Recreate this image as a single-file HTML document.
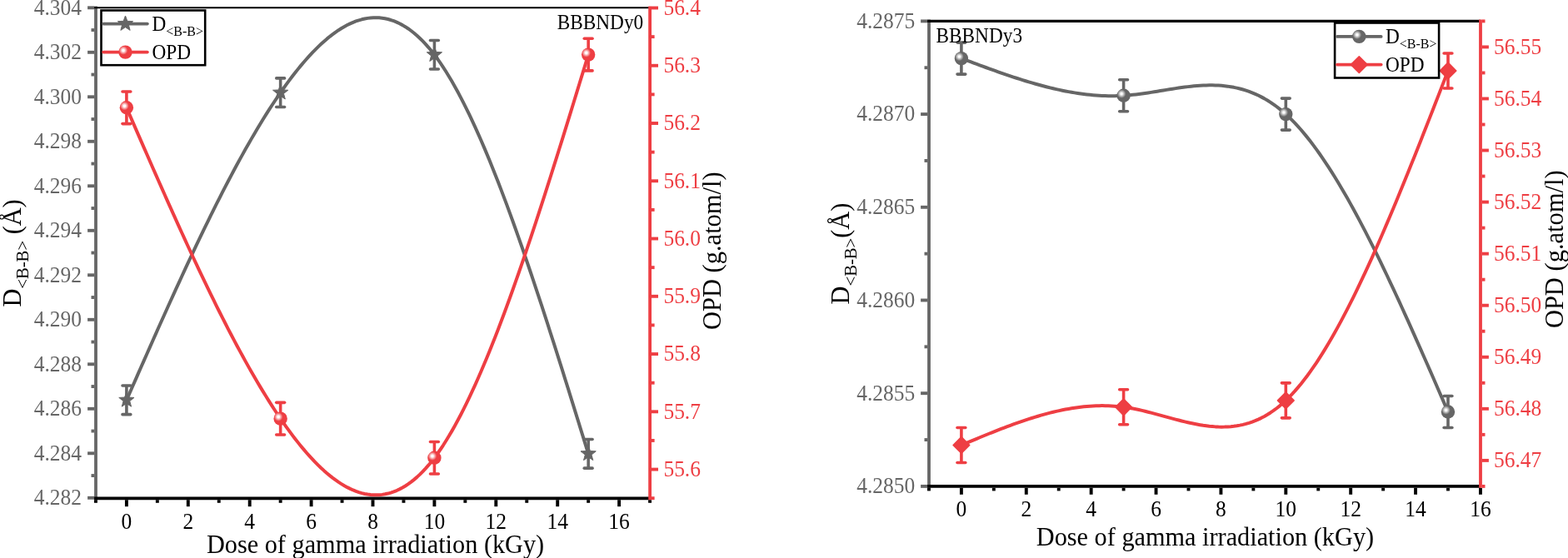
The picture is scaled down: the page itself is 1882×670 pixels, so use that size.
<!DOCTYPE html>
<html><head><meta charset="utf-8"><title>D(B-B) and OPD vs dose</title><style>
html,body{margin:0;padding:0;background:#fff;width:1882px;height:670px;overflow:hidden;}
svg{display:block;}
text{font-family:"Liberation Serif","Times New Roman",serif;}
</style></head><body>
<svg width="1882" height="670" viewBox="0 0 1882 670">
<defs>
<radialGradient id="rg" cx="0.35" cy="0.37" r="0.32" fx="0.35" fy="0.37"><stop offset="0" stop-color="#fff"/><stop offset="0.22" stop-color="#fff"/><stop offset="1" stop-color="#EE3E43"/></radialGradient>
<radialGradient id="gg" cx="0.35" cy="0.37" r="0.32" fx="0.35" fy="0.37"><stop offset="0" stop-color="#fff"/><stop offset="0.22" stop-color="#fafafa"/><stop offset="1" stop-color="#666666"/></radialGradient>
</defs>
<rect width="1882" height="670" fill="#fff"/>
<line x1="115" y1="7.4" x2="115" y2="600.2" stroke="#666666" stroke-width="3.8" stroke-linecap="butt"/>
<line x1="113.1" y1="597.8" x2="105.1" y2="597.8" stroke="#666666" stroke-width="3.9" stroke-linecap="butt"/>
<text transform="translate(98,606.1) scale(0.980,1.060)" fill="#666666" font-size="26" text-anchor="end">4.282</text>
<line x1="113.1" y1="544.3" x2="105.1" y2="544.3" stroke="#666666" stroke-width="3.9" stroke-linecap="butt"/>
<text transform="translate(98,552.6) scale(0.980,1.060)" fill="#666666" font-size="26" text-anchor="end">4.284</text>
<line x1="113.1" y1="490.8" x2="105.1" y2="490.8" stroke="#666666" stroke-width="3.9" stroke-linecap="butt"/>
<text transform="translate(98,499.1) scale(0.980,1.060)" fill="#666666" font-size="26" text-anchor="end">4.286</text>
<line x1="113.1" y1="437.3" x2="105.1" y2="437.3" stroke="#666666" stroke-width="3.9" stroke-linecap="butt"/>
<text transform="translate(98,445.6) scale(0.980,1.060)" fill="#666666" font-size="26" text-anchor="end">4.288</text>
<line x1="113.1" y1="383.8" x2="105.1" y2="383.8" stroke="#666666" stroke-width="3.9" stroke-linecap="butt"/>
<text transform="translate(98,392.1) scale(0.980,1.060)" fill="#666666" font-size="26" text-anchor="end">4.290</text>
<line x1="113.1" y1="330.3" x2="105.1" y2="330.3" stroke="#666666" stroke-width="3.9" stroke-linecap="butt"/>
<text transform="translate(98,338.6) scale(0.980,1.060)" fill="#666666" font-size="26" text-anchor="end">4.292</text>
<line x1="113.1" y1="276.8" x2="105.1" y2="276.8" stroke="#666666" stroke-width="3.9" stroke-linecap="butt"/>
<text transform="translate(98,285.1) scale(0.980,1.060)" fill="#666666" font-size="26" text-anchor="end">4.294</text>
<line x1="113.1" y1="223.3" x2="105.1" y2="223.3" stroke="#666666" stroke-width="3.9" stroke-linecap="butt"/>
<text transform="translate(98,231.6) scale(0.980,1.060)" fill="#666666" font-size="26" text-anchor="end">4.296</text>
<line x1="113.1" y1="169.8" x2="105.1" y2="169.8" stroke="#666666" stroke-width="3.9" stroke-linecap="butt"/>
<text transform="translate(98,178.1) scale(0.980,1.060)" fill="#666666" font-size="26" text-anchor="end">4.298</text>
<line x1="113.1" y1="116.3" x2="105.1" y2="116.3" stroke="#666666" stroke-width="3.9" stroke-linecap="butt"/>
<text transform="translate(98,124.6) scale(0.980,1.060)" fill="#666666" font-size="26" text-anchor="end">4.300</text>
<line x1="113.1" y1="62.8" x2="105.1" y2="62.8" stroke="#666666" stroke-width="3.9" stroke-linecap="butt"/>
<text transform="translate(98,71.1) scale(0.980,1.060)" fill="#666666" font-size="26" text-anchor="end">4.302</text>
<line x1="113.1" y1="9.3" x2="105.1" y2="9.3" stroke="#666666" stroke-width="3.9" stroke-linecap="butt"/>
<text transform="translate(98,17.6) scale(0.980,1.060)" fill="#666666" font-size="26" text-anchor="end">4.304</text>
<line x1="113.1" y1="571.05" x2="109.5" y2="571.05" stroke="#666666" stroke-width="3.9" stroke-linecap="butt"/>
<line x1="113.1" y1="517.55" x2="109.5" y2="517.55" stroke="#666666" stroke-width="3.9" stroke-linecap="butt"/>
<line x1="113.1" y1="464.05" x2="109.5" y2="464.05" stroke="#666666" stroke-width="3.9" stroke-linecap="butt"/>
<line x1="113.1" y1="410.55" x2="109.5" y2="410.55" stroke="#666666" stroke-width="3.9" stroke-linecap="butt"/>
<line x1="113.1" y1="357.05" x2="109.5" y2="357.05" stroke="#666666" stroke-width="3.9" stroke-linecap="butt"/>
<line x1="113.1" y1="303.55" x2="109.5" y2="303.55" stroke="#666666" stroke-width="3.9" stroke-linecap="butt"/>
<line x1="113.1" y1="250.05" x2="109.5" y2="250.05" stroke="#666666" stroke-width="3.9" stroke-linecap="butt"/>
<line x1="113.1" y1="196.55" x2="109.5" y2="196.55" stroke="#666666" stroke-width="3.9" stroke-linecap="butt"/>
<line x1="113.1" y1="143.05" x2="109.5" y2="143.05" stroke="#666666" stroke-width="3.9" stroke-linecap="butt"/>
<line x1="113.1" y1="89.55" x2="109.5" y2="89.55" stroke="#666666" stroke-width="3.9" stroke-linecap="butt"/>
<line x1="113.1" y1="36.05" x2="109.5" y2="36.05" stroke="#666666" stroke-width="3.9" stroke-linecap="butt"/>
<line x1="113.1" y1="9.3" x2="780.1" y2="9.3" stroke="#000000" stroke-width="2" stroke-linecap="butt"/>
<line x1="113.1" y1="598.3" x2="780.1" y2="598.3" stroke="#000000" stroke-width="3.8" stroke-linecap="butt"/>
<line x1="151.9" y1="600.2" x2="151.9" y2="608.2" stroke="#000000" stroke-width="3.9" stroke-linecap="butt"/>
<text transform="translate(151.9,634.5) scale(0.980,1.060)" fill="#000000" font-size="26" text-anchor="middle">0</text>
<line x1="225.8" y1="600.2" x2="225.8" y2="608.2" stroke="#000000" stroke-width="3.9" stroke-linecap="butt"/>
<text transform="translate(225.8,634.5) scale(0.980,1.060)" fill="#000000" font-size="26" text-anchor="middle">2</text>
<line x1="299.7" y1="600.2" x2="299.7" y2="608.2" stroke="#000000" stroke-width="3.9" stroke-linecap="butt"/>
<text transform="translate(299.7,634.5) scale(0.980,1.060)" fill="#000000" font-size="26" text-anchor="middle">4</text>
<line x1="373.6" y1="600.2" x2="373.6" y2="608.2" stroke="#000000" stroke-width="3.9" stroke-linecap="butt"/>
<text transform="translate(373.6,634.5) scale(0.980,1.060)" fill="#000000" font-size="26" text-anchor="middle">6</text>
<line x1="447.5" y1="600.2" x2="447.5" y2="608.2" stroke="#000000" stroke-width="3.9" stroke-linecap="butt"/>
<text transform="translate(447.5,634.5) scale(0.980,1.060)" fill="#000000" font-size="26" text-anchor="middle">8</text>
<line x1="521.4" y1="600.2" x2="521.4" y2="608.2" stroke="#000000" stroke-width="3.9" stroke-linecap="butt"/>
<text transform="translate(521.4,634.5) scale(0.980,1.060)" fill="#000000" font-size="26" text-anchor="middle">10</text>
<line x1="595.3" y1="600.2" x2="595.3" y2="608.2" stroke="#000000" stroke-width="3.9" stroke-linecap="butt"/>
<text transform="translate(595.3,634.5) scale(0.980,1.060)" fill="#000000" font-size="26" text-anchor="middle">12</text>
<line x1="669.2" y1="600.2" x2="669.2" y2="608.2" stroke="#000000" stroke-width="3.9" stroke-linecap="butt"/>
<text transform="translate(669.2,634.5) scale(0.980,1.060)" fill="#000000" font-size="26" text-anchor="middle">14</text>
<line x1="743.1" y1="600.2" x2="743.1" y2="608.2" stroke="#000000" stroke-width="3.9" stroke-linecap="butt"/>
<text transform="translate(743.1,634.5) scale(0.980,1.060)" fill="#000000" font-size="26" text-anchor="middle">16</text>
<line x1="114.95" y1="600.2" x2="114.95" y2="603.8" stroke="#000000" stroke-width="3.9" stroke-linecap="butt"/>
<line x1="188.85" y1="600.2" x2="188.85" y2="603.8" stroke="#000000" stroke-width="3.9" stroke-linecap="butt"/>
<line x1="262.75" y1="600.2" x2="262.75" y2="603.8" stroke="#000000" stroke-width="3.9" stroke-linecap="butt"/>
<line x1="336.65" y1="600.2" x2="336.65" y2="603.8" stroke="#000000" stroke-width="3.9" stroke-linecap="butt"/>
<line x1="410.55" y1="600.2" x2="410.55" y2="603.8" stroke="#000000" stroke-width="3.9" stroke-linecap="butt"/>
<line x1="484.45" y1="600.2" x2="484.45" y2="603.8" stroke="#000000" stroke-width="3.9" stroke-linecap="butt"/>
<line x1="558.35" y1="600.2" x2="558.35" y2="603.8" stroke="#000000" stroke-width="3.9" stroke-linecap="butt"/>
<line x1="632.25" y1="600.2" x2="632.25" y2="603.8" stroke="#000000" stroke-width="3.9" stroke-linecap="butt"/>
<line x1="706.15" y1="600.2" x2="706.15" y2="603.8" stroke="#000000" stroke-width="3.9" stroke-linecap="butt"/>
<line x1="780.05" y1="600.2" x2="780.05" y2="603.8" stroke="#000000" stroke-width="3.9" stroke-linecap="butt"/>
<line x1="780.1" y1="7.4" x2="780.1" y2="600.2" stroke="#EE3E43" stroke-width="3.8" stroke-linecap="butt"/>
<line x1="782" y1="563.58" x2="790" y2="563.58" stroke="#EE3E43" stroke-width="3.9" stroke-linecap="butt"/>
<text transform="translate(796.4,571.88) scale(0.980,1.060)" fill="#EE3E43" font-size="26" text-anchor="start">55.6</text>
<line x1="782" y1="494.32" x2="790" y2="494.32" stroke="#EE3E43" stroke-width="3.9" stroke-linecap="butt"/>
<text transform="translate(796.4,502.62) scale(0.980,1.060)" fill="#EE3E43" font-size="26" text-anchor="start">55.7</text>
<line x1="782" y1="425.06" x2="790" y2="425.06" stroke="#EE3E43" stroke-width="3.9" stroke-linecap="butt"/>
<text transform="translate(796.4,433.36) scale(0.980,1.060)" fill="#EE3E43" font-size="26" text-anchor="start">55.8</text>
<line x1="782" y1="355.8" x2="790" y2="355.8" stroke="#EE3E43" stroke-width="3.9" stroke-linecap="butt"/>
<text transform="translate(796.4,364.1) scale(0.980,1.060)" fill="#EE3E43" font-size="26" text-anchor="start">55.9</text>
<line x1="782" y1="286.54" x2="790" y2="286.54" stroke="#EE3E43" stroke-width="3.9" stroke-linecap="butt"/>
<text transform="translate(796.4,294.84) scale(0.980,1.060)" fill="#EE3E43" font-size="26" text-anchor="start">56.0</text>
<line x1="782" y1="217.28" x2="790" y2="217.28" stroke="#EE3E43" stroke-width="3.9" stroke-linecap="butt"/>
<text transform="translate(796.4,225.58) scale(0.980,1.060)" fill="#EE3E43" font-size="26" text-anchor="start">56.1</text>
<line x1="782" y1="148.02" x2="790" y2="148.02" stroke="#EE3E43" stroke-width="3.9" stroke-linecap="butt"/>
<text transform="translate(796.4,156.32) scale(0.980,1.060)" fill="#EE3E43" font-size="26" text-anchor="start">56.2</text>
<line x1="782" y1="78.76" x2="790" y2="78.76" stroke="#EE3E43" stroke-width="3.9" stroke-linecap="butt"/>
<text transform="translate(796.4,87.06) scale(0.980,1.060)" fill="#EE3E43" font-size="26" text-anchor="start">56.3</text>
<line x1="782" y1="9.5" x2="790" y2="9.5" stroke="#EE3E43" stroke-width="3.9" stroke-linecap="butt"/>
<text transform="translate(796.4,17.8) scale(0.980,1.060)" fill="#EE3E43" font-size="26" text-anchor="start">56.4</text>
<line x1="782" y1="598.21" x2="785.6" y2="598.21" stroke="#EE3E43" stroke-width="3.9" stroke-linecap="butt"/>
<line x1="782" y1="528.95" x2="785.6" y2="528.95" stroke="#EE3E43" stroke-width="3.9" stroke-linecap="butt"/>
<line x1="782" y1="459.69" x2="785.6" y2="459.69" stroke="#EE3E43" stroke-width="3.9" stroke-linecap="butt"/>
<line x1="782" y1="390.43" x2="785.6" y2="390.43" stroke="#EE3E43" stroke-width="3.9" stroke-linecap="butt"/>
<line x1="782" y1="321.17" x2="785.6" y2="321.17" stroke="#EE3E43" stroke-width="3.9" stroke-linecap="butt"/>
<line x1="782" y1="251.91" x2="785.6" y2="251.91" stroke="#EE3E43" stroke-width="3.9" stroke-linecap="butt"/>
<line x1="782" y1="182.65" x2="785.6" y2="182.65" stroke="#EE3E43" stroke-width="3.9" stroke-linecap="butt"/>
<line x1="782" y1="113.39" x2="785.6" y2="113.39" stroke="#EE3E43" stroke-width="3.9" stroke-linecap="butt"/>
<line x1="782" y1="44.13" x2="785.6" y2="44.13" stroke="#EE3E43" stroke-width="3.9" stroke-linecap="butt"/>
<text transform="translate(247.9,663.5) scale(1.000,1.055)" fill="#000000" font-size="30.3" text-anchor="start">Dose of gamma irradiation (kGy)</text>
<text transform="translate(25,368.6) rotate(-90) scale(1,1.055)" fill="#000000" font-size="30.3">D<tspan font-size="20.69" dy="8.18">&lt;B-B&gt;</tspan><tspan dy="-8.18"> (Å)</tspan></text>
<text transform="translate(864.7,396) rotate(-90) scale(1,1.055)" fill="#000000" font-size="30.5">OPD (g.atom/l)</text>
<path d="M151.9,480.37 L155.39,472.43 L158.87,464.5 L162.36,456.58 L165.84,448.65 L169.33,440.74 L172.82,432.84 L176.3,424.95 L179.79,417.07 L183.27,409.21 L186.76,401.37 L190.24,393.55 L193.73,385.76 L197.22,377.99 L200.7,370.24 L204.19,362.52 L207.67,354.84 L211.16,347.19 L214.65,339.57 L218.13,331.99 L221.62,324.45 L225.1,316.95 L228.59,309.5 L232.07,302.09 L235.56,294.72 L239.05,287.41 L242.53,280.15 L246.02,272.94 L249.5,265.79 L252.99,258.7 L256.48,251.66 L259.96,244.69 L263.45,237.79 L266.93,230.94 L270.42,224.17 L273.9,217.47 L277.39,210.84 L280.88,204.28 L284.36,197.81 L287.85,191.41 L291.33,185.09 L294.82,178.85 L298.31,172.7 L301.79,166.63 L305.28,160.66 L308.76,154.77 L312.25,148.98 L315.73,143.28 L319.22,137.68 L322.71,132.18 L326.19,126.78 L329.68,121.49 L333.16,116.3 L336.65,111.22 L340.14,106.25 L343.62,101.39 L347.11,96.64 L350.59,92.01 L354.08,87.51 L357.57,83.12 L361.05,78.87 L364.54,74.74 L368.02,70.74 L371.51,66.87 L374.99,63.15 L378.48,59.56 L381.97,56.11 L385.45,52.81 L388.94,49.66 L392.42,46.65 L395.91,43.8 L399.4,41.11 L402.88,38.57 L406.37,36.2 L409.85,33.98 L413.34,31.94 L416.82,30.06 L420.31,28.36 L423.8,26.82 L427.28,25.47 L430.77,24.3 L434.25,23.31 L437.74,22.5 L441.23,21.88 L444.71,21.45 L448.2,21.22 L451.68,21.18 L455.17,21.34 L458.65,21.71 L462.14,22.27 L465.63,23.04 L469.11,24.03 L472.6,25.22 L476.08,26.63 L479.57,28.26 L483.06,30.11 L486.54,32.18 L490.03,34.47 L493.51,37 L497,39.75 L500.48,42.74 L503.97,45.97 L507.46,49.43 L510.94,53.14 L514.43,57.09 L517.91,61.29 L521.4,65.74 L524.89,70.44 L528.37,75.39 L531.86,80.58 L535.34,86.01 L538.83,91.68 L542.32,97.57 L545.8,103.69 L549.29,110.02 L552.77,116.57 L556.26,123.33 L559.74,130.3 L563.23,137.46 L566.72,144.83 L570.2,152.38 L573.69,160.12 L577.17,168.03 L580.66,176.13 L584.15,184.4 L587.63,192.83 L591.12,201.43 L594.6,210.18 L598.09,219.09 L601.57,228.14 L605.06,237.34 L608.55,246.67 L612.03,256.14 L615.52,265.74 L619,275.46 L622.49,285.3 L625.98,295.26 L629.46,305.32 L632.95,315.49 L636.43,325.76 L639.92,336.12 L643.4,346.58 L646.89,357.12 L650.38,367.74 L653.86,378.44 L657.35,389.21 L660.83,400.05 L664.32,410.95 L667.81,421.9 L671.29,432.91 L674.78,443.97 L678.26,455.07 L681.75,466.21 L685.23,477.38 L688.72,488.58 L692.21,499.8 L695.69,511.04 L699.18,522.3 L702.66,533.56 L706.15,544.84" fill="none" stroke="#666666" stroke-width="4" stroke-linejoin="round"/>
<path d="M151.9,129.32 L155.39,137.34 L158.87,145.35 L162.36,153.36 L165.84,161.36 L169.33,169.36 L172.82,177.35 L176.3,185.32 L179.79,193.28 L183.27,201.22 L186.76,209.14 L190.24,217.04 L193.73,224.92 L197.22,232.78 L200.7,240.6 L204.19,248.4 L207.67,256.17 L211.16,263.9 L214.65,271.6 L218.13,279.26 L221.62,286.88 L225.1,294.46 L228.59,302 L232.07,309.49 L235.56,316.93 L239.05,324.33 L242.53,331.67 L246.02,338.95 L249.5,346.18 L252.99,353.36 L256.48,360.47 L259.96,367.52 L263.45,374.5 L266.93,381.42 L270.42,388.27 L273.9,395.05 L277.39,401.76 L280.88,408.39 L284.36,414.95 L287.85,421.42 L291.33,427.82 L294.82,434.13 L298.31,440.36 L301.79,446.5 L305.28,452.55 L308.76,458.5 L312.25,464.37 L315.73,470.14 L319.22,475.81 L322.71,481.38 L326.19,486.85 L329.68,492.22 L333.16,497.48 L336.65,502.63 L340.14,507.67 L343.62,512.6 L347.11,517.42 L350.59,522.11 L354.08,526.68 L357.57,531.13 L361.05,535.46 L364.54,539.65 L368.02,543.71 L371.51,547.64 L374.99,551.43 L378.48,555.07 L381.97,558.58 L385.45,561.94 L388.94,565.15 L392.42,568.21 L395.91,571.11 L399.4,573.86 L402.88,576.45 L406.37,578.87 L409.85,581.13 L413.34,583.23 L416.82,585.15 L420.31,586.89 L423.8,588.47 L427.28,589.86 L430.77,591.07 L434.25,592.1 L437.74,592.94 L441.23,593.58 L444.71,594.04 L448.2,594.3 L451.68,594.36 L455.17,594.23 L458.65,593.88 L462.14,593.33 L465.63,592.58 L469.11,591.6 L472.6,590.42 L476.08,589.02 L479.57,587.39 L483.06,585.55 L486.54,583.48 L490.03,581.17 L493.51,578.64 L497,575.88 L500.48,572.87 L503.97,569.63 L507.46,566.15 L510.94,562.42 L514.43,558.44 L517.91,554.21 L521.4,549.73 L524.89,544.99 L528.37,540 L531.86,534.77 L535.34,529.29 L538.83,523.58 L542.32,517.63 L545.8,511.46 L549.29,505.07 L552.77,498.46 L556.26,491.63 L559.74,484.6 L563.23,477.36 L566.72,469.93 L570.2,462.3 L573.69,454.49 L577.17,446.49 L580.66,438.31 L584.15,429.96 L587.63,421.44 L591.12,412.76 L594.6,403.91 L598.09,394.91 L601.57,385.76 L605.06,376.47 L608.55,367.03 L612.03,357.47 L615.52,347.77 L619,337.94 L622.49,327.99 L625.98,317.93 L629.46,307.76 L632.95,297.48 L636.43,287.1 L639.92,276.62 L643.4,266.05 L646.89,255.39 L650.38,244.65 L653.86,233.84 L657.35,222.95 L660.83,211.99 L664.32,200.97 L667.81,189.9 L671.29,178.76 L674.78,167.59 L678.26,156.36 L681.75,145.1 L685.23,133.81 L688.72,122.48 L692.21,111.14 L695.69,99.77 L699.18,88.39 L702.66,77 L706.15,65.6" fill="none" stroke="#EE3E43" stroke-width="4" stroke-linejoin="round"/>
<line x1="151.9" y1="463.07" x2="151.9" y2="497.67" stroke="#666666" stroke-width="3.6" stroke-linecap="butt"/>
<line x1="147" y1="463.07" x2="156.8" y2="463.07" stroke="#666666" stroke-width="3.6" stroke-linecap="round"/>
<line x1="147" y1="497.67" x2="156.8" y2="497.67" stroke="#666666" stroke-width="3.6" stroke-linecap="round"/>
<line x1="336.65" y1="93.92" x2="336.65" y2="128.52" stroke="#666666" stroke-width="3.6" stroke-linecap="butt"/>
<line x1="331.75" y1="93.92" x2="341.55" y2="93.92" stroke="#666666" stroke-width="3.6" stroke-linecap="round"/>
<line x1="331.75" y1="128.52" x2="341.55" y2="128.52" stroke="#666666" stroke-width="3.6" stroke-linecap="round"/>
<line x1="521.4" y1="48.44" x2="521.4" y2="83.04" stroke="#666666" stroke-width="3.6" stroke-linecap="butt"/>
<line x1="516.5" y1="48.44" x2="526.3" y2="48.44" stroke="#666666" stroke-width="3.6" stroke-linecap="round"/>
<line x1="516.5" y1="83.04" x2="526.3" y2="83.04" stroke="#666666" stroke-width="3.6" stroke-linecap="round"/>
<line x1="706.15" y1="527.54" x2="706.15" y2="562.14" stroke="#666666" stroke-width="3.6" stroke-linecap="butt"/>
<line x1="701.25" y1="527.54" x2="711.05" y2="527.54" stroke="#666666" stroke-width="3.6" stroke-linecap="round"/>
<line x1="701.25" y1="562.14" x2="711.05" y2="562.14" stroke="#666666" stroke-width="3.6" stroke-linecap="round"/>
<line x1="151.9" y1="110.02" x2="151.9" y2="148.62" stroke="#EE3E43" stroke-width="3.6" stroke-linecap="butt"/>
<line x1="147" y1="110.02" x2="156.8" y2="110.02" stroke="#EE3E43" stroke-width="3.6" stroke-linecap="round"/>
<line x1="147" y1="148.62" x2="156.8" y2="148.62" stroke="#EE3E43" stroke-width="3.6" stroke-linecap="round"/>
<line x1="336.65" y1="483.33" x2="336.65" y2="521.93" stroke="#EE3E43" stroke-width="3.6" stroke-linecap="butt"/>
<line x1="331.75" y1="483.33" x2="341.55" y2="483.33" stroke="#EE3E43" stroke-width="3.6" stroke-linecap="round"/>
<line x1="331.75" y1="521.93" x2="341.55" y2="521.93" stroke="#EE3E43" stroke-width="3.6" stroke-linecap="round"/>
<line x1="521.4" y1="530.43" x2="521.4" y2="569.03" stroke="#EE3E43" stroke-width="3.6" stroke-linecap="butt"/>
<line x1="516.5" y1="530.43" x2="526.3" y2="530.43" stroke="#EE3E43" stroke-width="3.6" stroke-linecap="round"/>
<line x1="516.5" y1="569.03" x2="526.3" y2="569.03" stroke="#EE3E43" stroke-width="3.6" stroke-linecap="round"/>
<line x1="706.15" y1="46.3" x2="706.15" y2="84.9" stroke="#EE3E43" stroke-width="3.6" stroke-linecap="butt"/>
<line x1="701.25" y1="46.3" x2="711.05" y2="46.3" stroke="#EE3E43" stroke-width="3.6" stroke-linecap="round"/>
<line x1="701.25" y1="84.9" x2="711.05" y2="84.9" stroke="#EE3E43" stroke-width="3.6" stroke-linecap="round"/>
<polygon points="151.9,470.77 154.27,477.11 161.03,477.4 155.73,481.61 157.54,488.13 151.9,484.4 146.26,488.13 148.07,481.61 142.77,477.4 149.53,477.11" fill="#666666" stroke="#666666" stroke-width="1" stroke-linejoin="round"/>
<polygon points="336.65,101.62 339.02,107.96 345.78,108.25 340.48,112.46 342.29,118.98 336.65,115.25 331.01,118.98 332.82,112.46 327.52,108.25 334.28,107.96" fill="#666666" stroke="#666666" stroke-width="1" stroke-linejoin="round"/>
<polygon points="521.4,56.14 523.77,62.48 530.53,62.78 525.23,66.99 527.04,73.51 521.4,69.77 515.76,73.51 517.57,66.99 512.27,62.78 519.03,62.48" fill="#666666" stroke="#666666" stroke-width="1" stroke-linejoin="round"/>
<polygon points="706.15,535.24 708.52,541.57 715.28,541.87 709.98,546.08 711.79,552.6 706.15,548.87 700.51,552.6 702.32,546.08 697.02,541.87 703.78,541.57" fill="#666666" stroke="#666666" stroke-width="1" stroke-linejoin="round"/>
<circle cx="151.9" cy="129.32" r="8.2" fill="url(#rg)"/>
<circle cx="336.65" cy="502.63" r="8.2" fill="url(#rg)"/>
<circle cx="521.4" cy="549.73" r="8.2" fill="url(#rg)"/>
<circle cx="706.15" cy="65.6" r="8.2" fill="url(#rg)"/>
<text transform="translate(772.2,34.6) scale(1.000,1.055)" fill="#000000" font-size="23.3" text-anchor="end">BBBNDy0</text>
<rect x="121.5" y="12.5" width="124.7" height="65.7" fill="#fff" stroke="#000" stroke-width="2.6"/>
<line x1="124.2" y1="28.6" x2="176.8" y2="28.6" stroke="#666666" stroke-width="3.9" stroke-linecap="round"/>
<line x1="124.2" y1="62.6" x2="176.8" y2="62.6" stroke="#EE3E43" stroke-width="3.9" stroke-linecap="round"/>
<polygon points="150.5,19 152.87,25.34 159.63,25.63 154.33,29.85 156.14,36.37 150.5,32.63 144.86,36.37 146.67,29.85 141.37,25.63 148.13,25.34" fill="#666666" stroke="#666666" stroke-width="1" stroke-linejoin="round"/>
<circle cx="150.5" cy="62.6" r="8.2" fill="url(#rg)"/>
<text transform="translate(182.4,36.9) scale(1,1.055)" fill="#000" font-size="23.3">D<tspan font-size="16" dy="5.6">&lt;B-B&gt;</tspan></text>
<text transform="translate(182.4,70.6) scale(1.000,1.055)" fill="#000000" font-size="23.3" text-anchor="start">OPD</text>
<line x1="1115" y1="23.5" x2="1115" y2="585.8" stroke="#666666" stroke-width="3.8" stroke-linecap="butt"/>
<line x1="1113.1" y1="583.9" x2="1105.1" y2="583.9" stroke="#666666" stroke-width="3.9" stroke-linecap="butt"/>
<text transform="translate(1098.3,592.2) scale(0.980,1.060)" fill="#666666" font-size="26" text-anchor="end">4.2850</text>
<line x1="1113.1" y1="472.2" x2="1105.1" y2="472.2" stroke="#666666" stroke-width="3.9" stroke-linecap="butt"/>
<text transform="translate(1098.3,480.5) scale(0.980,1.060)" fill="#666666" font-size="26" text-anchor="end">4.2855</text>
<line x1="1113.1" y1="360.5" x2="1105.1" y2="360.5" stroke="#666666" stroke-width="3.9" stroke-linecap="butt"/>
<text transform="translate(1098.3,368.8) scale(0.980,1.060)" fill="#666666" font-size="26" text-anchor="end">4.2860</text>
<line x1="1113.1" y1="248.8" x2="1105.1" y2="248.8" stroke="#666666" stroke-width="3.9" stroke-linecap="butt"/>
<text transform="translate(1098.3,257.1) scale(0.980,1.060)" fill="#666666" font-size="26" text-anchor="end">4.2865</text>
<line x1="1113.1" y1="137.1" x2="1105.1" y2="137.1" stroke="#666666" stroke-width="3.9" stroke-linecap="butt"/>
<text transform="translate(1098.3,145.4) scale(0.980,1.060)" fill="#666666" font-size="26" text-anchor="end">4.2870</text>
<line x1="1113.1" y1="25.4" x2="1105.1" y2="25.4" stroke="#666666" stroke-width="3.9" stroke-linecap="butt"/>
<text transform="translate(1098.3,33.7) scale(0.980,1.060)" fill="#666666" font-size="26" text-anchor="end">4.2875</text>
<line x1="1113.1" y1="528.05" x2="1109.5" y2="528.05" stroke="#666666" stroke-width="3.9" stroke-linecap="butt"/>
<line x1="1113.1" y1="416.35" x2="1109.5" y2="416.35" stroke="#666666" stroke-width="3.9" stroke-linecap="butt"/>
<line x1="1113.1" y1="304.65" x2="1109.5" y2="304.65" stroke="#666666" stroke-width="3.9" stroke-linecap="butt"/>
<line x1="1113.1" y1="192.95" x2="1109.5" y2="192.95" stroke="#666666" stroke-width="3.9" stroke-linecap="butt"/>
<line x1="1113.1" y1="81.25" x2="1109.5" y2="81.25" stroke="#666666" stroke-width="3.9" stroke-linecap="butt"/>
<line x1="1113.1" y1="25.4" x2="1777" y2="25.4" stroke="#000000" stroke-width="3.1" stroke-linecap="butt"/>
<line x1="1113.1" y1="583.9" x2="1777" y2="583.9" stroke="#000000" stroke-width="3.8" stroke-linecap="butt"/>
<line x1="1153.9" y1="585.8" x2="1153.9" y2="593.8" stroke="#000000" stroke-width="3.9" stroke-linecap="butt"/>
<text transform="translate(1153.9,620) scale(0.980,1.060)" fill="#000000" font-size="26" text-anchor="middle">0</text>
<line x1="1231.78" y1="585.8" x2="1231.78" y2="593.8" stroke="#000000" stroke-width="3.9" stroke-linecap="butt"/>
<text transform="translate(1231.78,620) scale(0.980,1.060)" fill="#000000" font-size="26" text-anchor="middle">2</text>
<line x1="1309.66" y1="585.8" x2="1309.66" y2="593.8" stroke="#000000" stroke-width="3.9" stroke-linecap="butt"/>
<text transform="translate(1309.66,620) scale(0.980,1.060)" fill="#000000" font-size="26" text-anchor="middle">4</text>
<line x1="1387.54" y1="585.8" x2="1387.54" y2="593.8" stroke="#000000" stroke-width="3.9" stroke-linecap="butt"/>
<text transform="translate(1387.54,620) scale(0.980,1.060)" fill="#000000" font-size="26" text-anchor="middle">6</text>
<line x1="1465.42" y1="585.8" x2="1465.42" y2="593.8" stroke="#000000" stroke-width="3.9" stroke-linecap="butt"/>
<text transform="translate(1465.42,620) scale(0.980,1.060)" fill="#000000" font-size="26" text-anchor="middle">8</text>
<line x1="1543.3" y1="585.8" x2="1543.3" y2="593.8" stroke="#000000" stroke-width="3.9" stroke-linecap="butt"/>
<text transform="translate(1543.3,620) scale(0.980,1.060)" fill="#000000" font-size="26" text-anchor="middle">10</text>
<line x1="1621.18" y1="585.8" x2="1621.18" y2="593.8" stroke="#000000" stroke-width="3.9" stroke-linecap="butt"/>
<text transform="translate(1621.18,620) scale(0.980,1.060)" fill="#000000" font-size="26" text-anchor="middle">12</text>
<line x1="1699.06" y1="585.8" x2="1699.06" y2="593.8" stroke="#000000" stroke-width="3.9" stroke-linecap="butt"/>
<text transform="translate(1699.06,620) scale(0.980,1.060)" fill="#000000" font-size="26" text-anchor="middle">14</text>
<line x1="1776.94" y1="585.8" x2="1776.94" y2="593.8" stroke="#000000" stroke-width="3.9" stroke-linecap="butt"/>
<text transform="translate(1776.94,620) scale(0.980,1.060)" fill="#000000" font-size="26" text-anchor="middle">16</text>
<line x1="1114.96" y1="585.8" x2="1114.96" y2="589.4" stroke="#000000" stroke-width="3.9" stroke-linecap="butt"/>
<line x1="1192.84" y1="585.8" x2="1192.84" y2="589.4" stroke="#000000" stroke-width="3.9" stroke-linecap="butt"/>
<line x1="1270.72" y1="585.8" x2="1270.72" y2="589.4" stroke="#000000" stroke-width="3.9" stroke-linecap="butt"/>
<line x1="1348.6" y1="585.8" x2="1348.6" y2="589.4" stroke="#000000" stroke-width="3.9" stroke-linecap="butt"/>
<line x1="1426.48" y1="585.8" x2="1426.48" y2="589.4" stroke="#000000" stroke-width="3.9" stroke-linecap="butt"/>
<line x1="1504.36" y1="585.8" x2="1504.36" y2="589.4" stroke="#000000" stroke-width="3.9" stroke-linecap="butt"/>
<line x1="1582.24" y1="585.8" x2="1582.24" y2="589.4" stroke="#000000" stroke-width="3.9" stroke-linecap="butt"/>
<line x1="1660.12" y1="585.8" x2="1660.12" y2="589.4" stroke="#000000" stroke-width="3.9" stroke-linecap="butt"/>
<line x1="1738" y1="585.8" x2="1738" y2="589.4" stroke="#000000" stroke-width="3.9" stroke-linecap="butt"/>
<line x1="1777" y1="23.5" x2="1777" y2="585.8" stroke="#EE3E43" stroke-width="3.8" stroke-linecap="butt"/>
<line x1="1778.9" y1="552.88" x2="1786.9" y2="552.88" stroke="#EE3E43" stroke-width="3.9" stroke-linecap="butt"/>
<text transform="translate(1793,561.18) scale(0.980,1.060)" fill="#EE3E43" font-size="26" text-anchor="start">56.47</text>
<line x1="1778.9" y1="490.82" x2="1786.9" y2="490.82" stroke="#EE3E43" stroke-width="3.9" stroke-linecap="butt"/>
<text transform="translate(1793,499.12) scale(0.980,1.060)" fill="#EE3E43" font-size="26" text-anchor="start">56.48</text>
<line x1="1778.9" y1="428.76" x2="1786.9" y2="428.76" stroke="#EE3E43" stroke-width="3.9" stroke-linecap="butt"/>
<text transform="translate(1793,437.06) scale(0.980,1.060)" fill="#EE3E43" font-size="26" text-anchor="start">56.49</text>
<line x1="1778.9" y1="366.71" x2="1786.9" y2="366.71" stroke="#EE3E43" stroke-width="3.9" stroke-linecap="butt"/>
<text transform="translate(1793,375.01) scale(0.980,1.060)" fill="#EE3E43" font-size="26" text-anchor="start">56.50</text>
<line x1="1778.9" y1="304.65" x2="1786.9" y2="304.65" stroke="#EE3E43" stroke-width="3.9" stroke-linecap="butt"/>
<text transform="translate(1793,312.95) scale(0.980,1.060)" fill="#EE3E43" font-size="26" text-anchor="start">56.51</text>
<line x1="1778.9" y1="242.6" x2="1786.9" y2="242.6" stroke="#EE3E43" stroke-width="3.9" stroke-linecap="butt"/>
<text transform="translate(1793,250.9) scale(0.980,1.060)" fill="#EE3E43" font-size="26" text-anchor="start">56.52</text>
<line x1="1778.9" y1="180.54" x2="1786.9" y2="180.54" stroke="#EE3E43" stroke-width="3.9" stroke-linecap="butt"/>
<text transform="translate(1793,188.84) scale(0.980,1.060)" fill="#EE3E43" font-size="26" text-anchor="start">56.53</text>
<line x1="1778.9" y1="118.48" x2="1786.9" y2="118.48" stroke="#EE3E43" stroke-width="3.9" stroke-linecap="butt"/>
<text transform="translate(1793,126.78) scale(0.980,1.060)" fill="#EE3E43" font-size="26" text-anchor="start">56.54</text>
<line x1="1778.9" y1="56.43" x2="1786.9" y2="56.43" stroke="#EE3E43" stroke-width="3.9" stroke-linecap="butt"/>
<text transform="translate(1793,64.73) scale(0.980,1.060)" fill="#EE3E43" font-size="26" text-anchor="start">56.55</text>
<line x1="1778.9" y1="583.9" x2="1782.5" y2="583.9" stroke="#EE3E43" stroke-width="3.9" stroke-linecap="butt"/>
<line x1="1778.9" y1="521.85" x2="1782.5" y2="521.85" stroke="#EE3E43" stroke-width="3.9" stroke-linecap="butt"/>
<line x1="1778.9" y1="459.79" x2="1782.5" y2="459.79" stroke="#EE3E43" stroke-width="3.9" stroke-linecap="butt"/>
<line x1="1778.9" y1="397.74" x2="1782.5" y2="397.74" stroke="#EE3E43" stroke-width="3.9" stroke-linecap="butt"/>
<line x1="1778.9" y1="335.68" x2="1782.5" y2="335.68" stroke="#EE3E43" stroke-width="3.9" stroke-linecap="butt"/>
<line x1="1778.9" y1="273.62" x2="1782.5" y2="273.62" stroke="#EE3E43" stroke-width="3.9" stroke-linecap="butt"/>
<line x1="1778.9" y1="211.57" x2="1782.5" y2="211.57" stroke="#EE3E43" stroke-width="3.9" stroke-linecap="butt"/>
<line x1="1778.9" y1="149.51" x2="1782.5" y2="149.51" stroke="#EE3E43" stroke-width="3.9" stroke-linecap="butt"/>
<line x1="1778.9" y1="87.46" x2="1782.5" y2="87.46" stroke="#EE3E43" stroke-width="3.9" stroke-linecap="butt"/>
<line x1="1778.9" y1="25.4" x2="1782.5" y2="25.4" stroke="#EE3E43" stroke-width="3.9" stroke-linecap="butt"/>
<text transform="translate(1243.8,655.4) scale(1.000,1.055)" fill="#000000" font-size="30.3" text-anchor="start">Dose of gamma irradiation (kGy)</text>
<text transform="translate(1019.2,365.4) rotate(-90) scale(1,1.055)" fill="#000000" font-size="30.3">D<tspan font-size="20.69" dy="8.18">&lt;B-B&gt;</tspan><tspan dy="-8.18">(Å)</tspan></text>
<text transform="translate(1875.5,394.1) rotate(-90) scale(1,1.055)" fill="#000000" font-size="30.5">OPD (g.atom/l)</text>
<path d="M1153.9,70.08 L1157.57,71.46 L1161.25,72.83 L1164.92,74.21 L1168.59,75.58 L1172.27,76.94 L1175.94,78.3 L1179.62,79.65 L1183.29,81 L1186.96,82.33 L1190.64,83.66 L1194.31,84.97 L1197.98,86.27 L1201.66,87.56 L1205.33,88.84 L1209,90.09 L1212.68,91.33 L1216.35,92.55 L1220.02,93.76 L1223.7,94.94 L1227.37,96.1 L1231.05,97.24 L1234.72,98.35 L1238.39,99.44 L1242.07,100.5 L1245.74,101.53 L1249.41,102.54 L1253.09,103.52 L1256.76,104.46 L1260.43,105.38 L1264.11,106.26 L1267.78,107.1 L1271.45,107.91 L1275.13,108.69 L1278.8,109.43 L1282.48,110.12 L1286.15,110.78 L1289.82,111.4 L1293.5,111.97 L1297.17,112.51 L1300.84,112.99 L1304.52,113.43 L1308.19,113.83 L1311.86,114.18 L1315.54,114.47 L1319.21,114.72 L1322.88,114.92 L1326.56,115.06 L1330.23,115.15 L1333.91,115.19 L1337.58,115.17 L1341.25,115.09 L1344.93,114.95 L1348.6,114.76 L1352.27,114.51 L1355.95,114.2 L1359.62,113.84 L1363.29,113.43 L1366.97,112.98 L1370.64,112.5 L1374.32,111.98 L1377.99,111.44 L1381.66,110.87 L1385.34,110.29 L1389.01,109.7 L1392.68,109.09 L1396.36,108.49 L1400.03,107.89 L1403.7,107.29 L1407.38,106.7 L1411.05,106.14 L1414.72,105.59 L1418.4,105.07 L1422.07,104.58 L1425.75,104.12 L1429.42,103.71 L1433.09,103.34 L1436.77,103.02 L1440.44,102.76 L1444.11,102.55 L1447.79,102.41 L1451.46,102.34 L1455.13,102.34 L1458.81,102.42 L1462.48,102.59 L1466.15,102.84 L1469.83,103.19 L1473.5,103.64 L1477.18,104.18 L1480.85,104.84 L1484.52,105.61 L1488.2,106.49 L1491.87,107.5 L1495.54,108.63 L1499.22,109.9 L1502.89,111.3 L1506.56,112.84 L1510.24,114.53 L1513.91,116.37 L1517.58,118.37 L1521.26,120.52 L1524.93,122.85 L1528.61,125.34 L1532.28,128 L1535.95,130.85 L1539.63,133.88 L1543.3,137.1 L1546.97,140.51 L1550.65,144.11 L1554.32,147.9 L1557.99,151.88 L1561.67,156.03 L1565.34,160.36 L1569.02,164.86 L1572.69,169.52 L1576.36,174.36 L1580.04,179.35 L1583.71,184.5 L1587.38,189.81 L1591.06,195.26 L1594.73,200.86 L1598.4,206.61 L1602.08,212.49 L1605.75,218.51 L1609.42,224.66 L1613.1,230.94 L1616.77,237.35 L1620.45,243.87 L1624.12,250.51 L1627.79,257.27 L1631.47,264.13 L1635.14,271.1 L1638.81,278.18 L1642.49,285.35 L1646.16,292.62 L1649.83,299.98 L1653.51,307.42 L1657.18,314.96 L1660.85,322.57 L1664.53,330.26 L1668.2,338.02 L1671.88,345.85 L1675.55,353.75 L1679.22,361.71 L1682.9,369.73 L1686.57,377.8 L1690.24,385.92 L1693.92,394.1 L1697.59,402.31 L1701.26,410.57 L1704.94,418.86 L1708.61,427.19 L1712.28,435.54 L1715.96,443.92 L1719.63,452.32 L1723.31,460.75 L1726.98,469.18 L1730.65,477.63 L1734.33,486.08 L1738,494.54" fill="none" stroke="#666666" stroke-width="4" stroke-linejoin="round"/>
<path d="M1153.9,534.45 L1157.57,532.91 L1161.25,531.37 L1164.92,529.83 L1168.59,528.3 L1172.27,526.78 L1175.94,525.26 L1179.62,523.75 L1183.29,522.25 L1186.96,520.77 L1190.64,519.29 L1194.31,517.83 L1197.98,516.39 L1201.66,514.96 L1205.33,513.55 L1209,512.17 L1212.68,510.8 L1216.35,509.46 L1220.02,508.14 L1223.7,506.85 L1227.37,505.58 L1231.05,504.35 L1234.72,503.14 L1238.39,501.97 L1242.07,500.83 L1245.74,499.73 L1249.41,498.66 L1253.09,497.63 L1256.76,496.64 L1260.43,495.68 L1264.11,494.77 L1267.78,493.91 L1271.45,493.09 L1275.13,492.31 L1278.8,491.58 L1282.48,490.91 L1286.15,490.28 L1289.82,489.7 L1293.5,489.18 L1297.17,488.72 L1300.84,488.31 L1304.52,487.95 L1308.19,487.66 L1311.86,487.43 L1315.54,487.26 L1319.21,487.15 L1322.88,487.11 L1326.56,487.14 L1330.23,487.23 L1333.91,487.4 L1337.58,487.63 L1341.25,487.94 L1344.93,488.32 L1348.6,488.77 L1352.27,489.3 L1355.95,489.91 L1359.62,490.57 L1363.29,491.3 L1366.97,492.08 L1370.64,492.91 L1374.32,493.78 L1377.99,494.69 L1381.66,495.63 L1385.34,496.59 L1389.01,497.58 L1392.68,498.58 L1396.36,499.58 L1400.03,500.59 L1403.7,501.59 L1407.38,502.59 L1411.05,503.57 L1414.72,504.53 L1418.4,505.47 L1422.07,506.37 L1425.75,507.23 L1429.42,508.06 L1433.09,508.83 L1436.77,509.55 L1440.44,510.2 L1444.11,510.8 L1447.79,511.31 L1451.46,511.76 L1455.13,512.11 L1458.81,512.38 L1462.48,512.56 L1466.15,512.63 L1469.83,512.6 L1473.5,512.45 L1477.18,512.19 L1480.85,511.81 L1484.52,511.29 L1488.2,510.64 L1491.87,509.85 L1495.54,508.92 L1499.22,507.83 L1502.89,506.58 L1506.56,505.17 L1510.24,503.59 L1513.91,501.84 L1517.58,499.9 L1521.26,497.78 L1524.93,495.47 L1528.61,492.96 L1532.28,490.25 L1535.95,487.33 L1539.63,484.19 L1543.3,480.83 L1546.97,477.25 L1550.65,473.44 L1554.32,469.42 L1557.99,465.18 L1561.67,460.74 L1565.34,456.09 L1569.02,451.23 L1572.69,446.19 L1576.36,440.95 L1580.04,435.52 L1583.71,429.91 L1587.38,424.12 L1591.06,418.15 L1594.73,412.01 L1598.4,405.71 L1602.08,399.25 L1605.75,392.62 L1609.42,385.85 L1613.1,378.92 L1616.77,371.85 L1620.45,364.63 L1624.12,357.28 L1627.79,349.8 L1631.47,342.19 L1635.14,334.46 L1638.81,326.61 L1642.49,318.64 L1646.16,310.56 L1649.83,302.37 L1653.51,294.08 L1657.18,285.7 L1660.85,277.21 L1664.53,268.64 L1668.2,259.99 L1671.88,251.25 L1675.55,242.44 L1679.22,233.55 L1682.9,224.59 L1686.57,215.58 L1690.24,206.5 L1693.92,197.36 L1697.59,188.18 L1701.26,178.94 L1704.94,169.67 L1708.61,160.35 L1712.28,151.01 L1715.96,141.63 L1719.63,132.23 L1723.31,122.8 L1726.98,113.36 L1730.65,103.9 L1734.33,94.44 L1738,84.97" fill="none" stroke="#EE3E43" stroke-width="4" stroke-linejoin="round"/>
<line x1="1153.9" y1="51.08" x2="1153.9" y2="89.08" stroke="#666666" stroke-width="3.6" stroke-linecap="butt"/>
<line x1="1149" y1="51.08" x2="1158.8" y2="51.08" stroke="#666666" stroke-width="3.6" stroke-linecap="round"/>
<line x1="1149" y1="89.08" x2="1158.8" y2="89.08" stroke="#666666" stroke-width="3.6" stroke-linecap="round"/>
<line x1="1348.6" y1="95.76" x2="1348.6" y2="133.76" stroke="#666666" stroke-width="3.6" stroke-linecap="butt"/>
<line x1="1343.7" y1="95.76" x2="1353.5" y2="95.76" stroke="#666666" stroke-width="3.6" stroke-linecap="round"/>
<line x1="1343.7" y1="133.76" x2="1353.5" y2="133.76" stroke="#666666" stroke-width="3.6" stroke-linecap="round"/>
<line x1="1543.3" y1="118.1" x2="1543.3" y2="156.1" stroke="#666666" stroke-width="3.6" stroke-linecap="butt"/>
<line x1="1538.4" y1="118.1" x2="1548.2" y2="118.1" stroke="#666666" stroke-width="3.6" stroke-linecap="round"/>
<line x1="1538.4" y1="156.1" x2="1548.2" y2="156.1" stroke="#666666" stroke-width="3.6" stroke-linecap="round"/>
<line x1="1738" y1="475.54" x2="1738" y2="513.54" stroke="#666666" stroke-width="3.6" stroke-linecap="butt"/>
<line x1="1733.1" y1="475.54" x2="1742.9" y2="475.54" stroke="#666666" stroke-width="3.6" stroke-linecap="round"/>
<line x1="1733.1" y1="513.54" x2="1742.9" y2="513.54" stroke="#666666" stroke-width="3.6" stroke-linecap="round"/>
<line x1="1153.9" y1="513.45" x2="1153.9" y2="555.45" stroke="#EE3E43" stroke-width="3.6" stroke-linecap="butt"/>
<line x1="1149" y1="513.45" x2="1158.8" y2="513.45" stroke="#EE3E43" stroke-width="3.6" stroke-linecap="round"/>
<line x1="1149" y1="555.45" x2="1158.8" y2="555.45" stroke="#EE3E43" stroke-width="3.6" stroke-linecap="round"/>
<line x1="1348.6" y1="467.77" x2="1348.6" y2="509.77" stroke="#EE3E43" stroke-width="3.6" stroke-linecap="butt"/>
<line x1="1343.7" y1="467.77" x2="1353.5" y2="467.77" stroke="#EE3E43" stroke-width="3.6" stroke-linecap="round"/>
<line x1="1343.7" y1="509.77" x2="1353.5" y2="509.77" stroke="#EE3E43" stroke-width="3.6" stroke-linecap="round"/>
<line x1="1543.3" y1="459.83" x2="1543.3" y2="501.83" stroke="#EE3E43" stroke-width="3.6" stroke-linecap="butt"/>
<line x1="1538.4" y1="459.83" x2="1548.2" y2="459.83" stroke="#EE3E43" stroke-width="3.6" stroke-linecap="round"/>
<line x1="1538.4" y1="501.83" x2="1548.2" y2="501.83" stroke="#EE3E43" stroke-width="3.6" stroke-linecap="round"/>
<line x1="1738" y1="63.97" x2="1738" y2="105.97" stroke="#EE3E43" stroke-width="3.6" stroke-linecap="butt"/>
<line x1="1733.1" y1="63.97" x2="1742.9" y2="63.97" stroke="#EE3E43" stroke-width="3.6" stroke-linecap="round"/>
<line x1="1733.1" y1="105.97" x2="1742.9" y2="105.97" stroke="#EE3E43" stroke-width="3.6" stroke-linecap="round"/>
<circle cx="1153.9" cy="70.08" r="8.2" fill="url(#gg)"/>
<circle cx="1348.6" cy="114.76" r="8.2" fill="url(#gg)"/>
<circle cx="1543.3" cy="137.1" r="8.2" fill="url(#gg)"/>
<circle cx="1738" cy="494.54" r="8.2" fill="url(#gg)"/>
<polygon points="1153.9,524.65 1163.7,534.45 1153.9,544.25 1144.1,534.45" fill="#EE3E43" stroke="#EE3E43" stroke-width="1.6" stroke-linejoin="round"/>
<polygon points="1348.6,478.97 1358.4,488.77 1348.6,498.57 1338.8,488.77" fill="#EE3E43" stroke="#EE3E43" stroke-width="1.6" stroke-linejoin="round"/>
<polygon points="1543.3,471.03 1553.1,480.83 1543.3,490.63 1533.5,480.83" fill="#EE3E43" stroke="#EE3E43" stroke-width="1.6" stroke-linejoin="round"/>
<polygon points="1738,75.17 1747.8,84.97 1738,94.77 1728.2,84.97" fill="#EE3E43" stroke="#EE3E43" stroke-width="1.6" stroke-linejoin="round"/>
<text transform="translate(1123.5,50.8) scale(1.000,1.055)" fill="#000000" font-size="23.3" text-anchor="start">BBBNDy3</text>
<rect x="1602.1" y="27.5" width="125" height="66" fill="#fff" stroke="#000" stroke-width="2.6"/>
<line x1="1605" y1="43.9" x2="1657.6" y2="43.9" stroke="#666666" stroke-width="3.9" stroke-linecap="round"/>
<line x1="1605" y1="77.6" x2="1657.6" y2="77.6" stroke="#EE3E43" stroke-width="3.9" stroke-linecap="round"/>
<circle cx="1631.3" cy="43.9" r="8.2" fill="url(#gg)"/>
<polygon points="1631.3,67.8 1641.1,77.6 1631.3,87.4 1621.5,77.6" fill="#EE3E43" stroke="#EE3E43" stroke-width="1.6" stroke-linejoin="round"/>
<text transform="translate(1663,51.9) scale(1,1.055)" fill="#000" font-size="23.3">D<tspan font-size="16" dy="5.6">&lt;B-B&gt;</tspan></text>
<text transform="translate(1663,86) scale(1.000,1.055)" fill="#000000" font-size="23.3" text-anchor="start">OPD</text>
</svg></body></html>
